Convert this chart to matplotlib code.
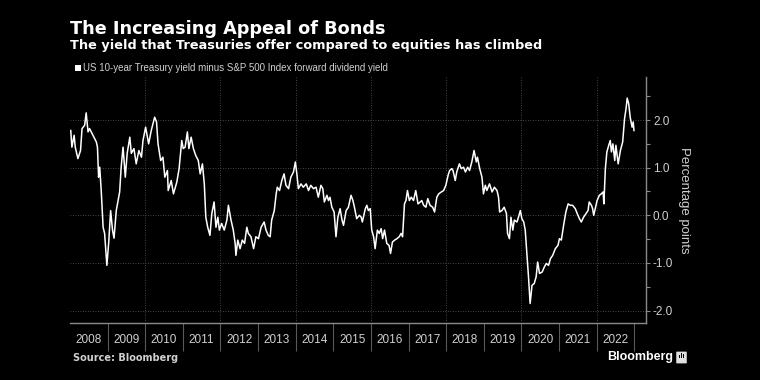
import matplotlib
matplotlib.use("Agg")
import matplotlib.pyplot as plt
from matplotlib.ticker import FixedLocator, NullFormatter, FixedFormatter
from matplotlib.patches import Rectangle, FancyBboxPatch

# spread = US 10y Treasury yield minus S&P 500 forward dividend yield (pct points)
# time as fractional years since 2008
years = [
    2008.02, 2008.05, 2008.11, 2008.14, 2008.21, 2008.28, 2008.32, 2008.39, 2008.43, 2008.48,
    2008.52, 2008.61, 2008.70, 2008.73, 2008.76, 2008.79, 2008.83, 2008.88, 2008.92, 2008.98,
    2009.03, 2009.08, 2009.13, 2009.17, 2009.23, 2009.32, 2009.36, 2009.41, 2009.47, 2009.52,
    2009.59, 2009.63, 2009.70, 2009.76, 2009.83, 2009.90, 2009.94, 2010.01, 2010.09, 2010.16,
    2010.25, 2010.30, 2010.34, 2010.41, 2010.47, 2010.52, 2010.59, 2010.61, 2010.69, 2010.75,
    2010.84, 2010.90, 2010.97, 2011.01, 2011.06, 2011.12, 2011.16, 2011.22, 2011.28, 2011.34,
    2011.41, 2011.46, 2011.52, 2011.57, 2011.61, 2011.66, 2011.72, 2011.77, 2011.83, 2011.88,
    2011.93, 2011.97, 2012.03, 2012.10, 2012.17, 2012.21, 2012.28, 2012.34, 2012.39, 2012.41,
    2012.46, 2012.52, 2012.58, 2012.64, 2012.70, 2012.74, 2012.81, 2012.88, 2012.94, 2013.01,
    2013.08, 2013.16, 2013.21, 2013.27, 2013.32, 2013.36, 2013.43, 2013.48, 2013.51, 2013.57,
    2013.63, 2013.69, 2013.74, 2013.81, 2013.87, 2013.94, 2013.99, 2014.03, 2014.07, 2014.14,
    2014.20, 2014.28, 2014.34, 2014.40, 2014.47, 2014.54, 2014.60, 2014.67, 2014.72, 2014.76,
    2014.83, 2014.87, 2014.91, 2014.96, 2015.02, 2015.07, 2015.12, 2015.18, 2015.23, 2015.27,
    2015.34, 2015.40, 2015.47, 2015.52, 2015.56, 2015.62, 2015.69, 2015.74, 2015.77, 2015.85,
    2015.89, 2015.93, 2015.98, 2016.02, 2016.07, 2016.11, 2016.17, 2016.22, 2016.27, 2016.31,
    2016.36, 2016.42, 2016.48, 2016.52, 2016.57, 2016.63, 2016.69, 2016.75, 2016.80, 2016.84,
    2016.89, 2016.93, 2016.97, 2017.02, 2017.07, 2017.13, 2017.19, 2017.25, 2017.31, 2017.35,
    2017.40, 2017.46, 2017.51, 2017.57, 2017.64, 2017.69, 2017.75, 2017.80, 2017.87, 2017.93,
    2017.99, 2018.05, 2018.09, 2018.15, 2018.18, 2018.24, 2018.28, 2018.35, 2018.40, 2018.46,
    2018.51, 2018.57, 2018.62, 2018.68, 2018.74, 2018.80, 2018.83, 2018.89, 2018.95, 2018.99,
    2019.04, 2019.08, 2019.15, 2019.22, 2019.28, 2019.35, 2019.39, 2019.42, 2019.48, 2019.54,
    2019.60, 2019.63, 2019.68, 2019.72, 2019.77, 2019.81, 2019.88, 2019.92, 2019.97, 2020.01,
    2020.06, 2020.10, 2020.15, 2020.19, 2020.23, 2020.28, 2020.34, 2020.39, 2020.43, 2020.48,
    2020.55, 2020.61, 2020.66, 2020.72, 2020.77, 2020.83, 2020.90, 2020.97, 2021.01, 2021.06,
    2021.12, 2021.18, 2021.24, 2021.30, 2021.36, 2021.43, 2021.48, 2021.54, 2021.59, 2021.65,
    2021.72, 2021.77, 2021.80, 2021.86, 2021.89, 2021.92, 2021.96, 2022.01, 2022.07, 2022.12,
    2022.17, 2022.19, 2022.23, 2022.27, 2022.32, 2022.36, 2022.39, 2022.43, 2022.48, 2022.51,
    2022.57, 2022.63, 2022.69, 2022.74, 2022.78, 2022.81, 2022.85, 2022.89, 2022.94, 2022.97,
    2022.99,
]
spread = [
    1.78, 1.43, 1.68, 1.43, 1.19, 1.36, 1.82, 1.89, 2.15, 1.75,
    1.82, 1.68, 1.54, 1.43, 0.80, 1.01, 0.52, -0.25, -0.38, -1.05,
    -0.56, 0.10, -0.31, -0.48, 0.10, 0.49, 1.01, 1.43, 0.80, 1.30,
    1.64, 1.30, 1.40, 1.08, 1.36, 1.22, 1.57, 1.85, 1.50, 1.78,
    2.06, 1.96, 1.50, 1.15, 1.22, 0.80, 0.94, 0.52, 0.73, 0.45,
    0.70, 0.98, 1.57, 1.40, 1.43, 1.75, 1.40, 1.64, 1.40, 1.26,
    1.15, 0.87, 1.08, 0.66, -0.04, -0.25, -0.42, 0.04, 0.28, -0.25,
    -0.04, -0.31, -0.17, -0.31, -0.10, 0.21, -0.10, -0.31, -0.59, -0.84,
    -0.52, -0.70, -0.52, -0.59, -0.25, -0.38, -0.45, -0.70, -0.45, -0.49,
    -0.25, -0.14, -0.31, -0.42, -0.45, -0.10, 0.10, 0.45, 0.59, 0.52,
    0.73, 0.87, 0.63, 0.56, 0.80, 0.91, 1.12, 0.87, 0.56, 0.66,
    0.59, 0.66, 0.52, 0.63, 0.56, 0.59, 0.38, 0.63, 0.56, 0.28,
    0.42, 0.31, 0.38, 0.17, 0.07, -0.45, -0.04, 0.14, -0.10, -0.21,
    0.10, 0.17, 0.42, 0.31, 0.17, -0.07, 0.00, -0.04, -0.14, 0.14,
    0.21, 0.10, 0.14, -0.31, -0.45, -0.70, -0.31, -0.38, -0.28, -0.49,
    -0.31, -0.59, -0.63, -0.80, -0.56, -0.52, -0.49, -0.45, -0.38, -0.45,
    0.24, 0.31, 0.52, 0.31, 0.38, 0.31, 0.52, 0.24, 0.28, 0.31,
    0.21, 0.17, 0.35, 0.21, 0.17, 0.07, 0.38, 0.45, 0.49, 0.52,
    0.63, 0.84, 0.94, 0.98, 0.94, 0.73, 0.91, 1.08, 0.98, 1.01,
    0.91, 1.01, 0.94, 1.12, 1.36, 1.12, 1.22, 0.98, 0.80, 0.45,
    0.63, 0.52, 0.66, 0.49, 0.59, 0.52, 0.38, 0.07, 0.10, 0.17,
    0.04, -0.38, -0.49, -0.04, -0.31, -0.10, -0.14, -0.04, 0.10, -0.07,
    -0.14, -0.31, -0.87, -1.33, -1.85, -1.47, -1.43, -1.29, -0.98, -1.22,
    -1.19, -1.08, -1.01, -1.05, -0.91, -0.84, -0.70, -0.63, -0.49, -0.52,
    -0.21, 0.07, 0.24, 0.21, 0.21, 0.14, 0.04, -0.07, -0.14, -0.04,
    0.04, 0.10, 0.28, 0.21, 0.14, 0.00, 0.14, 0.31, 0.42, 0.45,
    0.49, 0.24, 0.98, 1.33, 1.47, 1.57, 1.33, 1.50, 1.15, 1.47,
    1.08, 1.36, 1.54, 2.03, 2.24, 2.46, 2.34, 2.06, 1.85, 1.96,
    1.78,
]

year_labels = [str(y) for y in range(2008, 2023)]
y_ticks = [-2, -1, 0, 1, 2]
y_tick_labels = ["-2.0", "-1.0", "0.0", "1.0", "2.0"]
grid_years = [2010, 2012, 2014, 2016, 2018, 2020, 2022]

title = "The Increasing Appeal of Bonds"
subtitle = "The yield that Treasuries offer compared to equities has climbed"
legend_label = "US 10-year Treasury yield minus S&P 500 Index forward dividend yield"

bg = "black"
axis_grey = "#8a8a8a"
text_grey = "#d0d0d0"
small_font = ["Liberation Sans", "DejaVu Sans"]

fig = plt.figure(figsize=(7.6, 3.8), dpi=100, facecolor=bg)
ax = fig.add_axes([0.0921, 0.15, 0.7579, 0.647], facecolor=bg)

ax.plot(years, spread, color="white", lw=1.1, solid_joinstyle="round")

ax.set_xlim(2008.0, 2023.31)
ax.set_ylim(-2.26, 2.9)

# spines: only bottom + right
for side in ["top", "left"]:
    ax.spines[side].set_visible(False)
for side in ["bottom", "right"]:
    ax.spines[side].set_color(axis_grey)
    ax.spines[side].set_linewidth(1.0)

# x axis: long separators at year starts, labels centred on each year
ax.xaxis.set_major_locator(FixedLocator(range(2009, 2024)))
ax.xaxis.set_major_formatter(NullFormatter())
ax.xaxis.set_minor_locator(FixedLocator([y + 0.5 for y in range(2008, 2023)]))
ax.xaxis.set_minor_formatter(FixedFormatter(year_labels))
ax.tick_params(axis="x", which="major", length=20, width=0.8, color="#5a5a5a", direction="out")
ax.tick_params(axis="x", which="minor", length=0, pad=8, labelsize=8.5, labelcolor=text_grey)
for lab in ax.get_xticklabels(minor=True):
    lab.set_family(small_font)

# y axis on right
ax.yaxis.tick_right()
ax.yaxis.set_label_position("right")
ax.set_yticks(y_ticks)
ax.set_yticklabels(y_tick_labels)
ax.yaxis.set_minor_locator(FixedLocator([-1.5, -0.5, 0.5, 1.5, 2.5]))
ax.tick_params(axis="y", which="both", length=3, width=0.8, color=axis_grey,
               labelsize=8.5, labelcolor=text_grey, pad=2)
for lab in ax.get_yticklabels():
    lab.set_family(small_font)
ax.set_ylabel("Percentage points", rotation=270, labelpad=12, color=text_grey,
              fontsize=9.5, family=small_font)

# dotted grid
for yv in y_ticks:
    ax.axhline(yv, color="#5c5c5c", lw=0.6, ls=(0, (1, 2)), zorder=0)
for xv in grid_years:
    ax.axvline(xv, color="#5c5c5c", lw=0.6, ls=(0, (1, 2)), zorder=0)

# header text
fig.text(0.0921, 0.925, title, color="white", fontsize=12.7, fontweight="bold",
         va="center", ha="left")
fig.text(0.0921, 0.88, subtitle, color="white", fontsize=9.3, fontweight="bold",
         va="center", ha="left")
fig.patches.append(Rectangle((75 / 760, 1 - 71 / 380), 6 / 760, 6 / 380,
                             transform=fig.transFigure, facecolor="white", edgecolor="none"))
fig.text(83 / 760, 1 - 68 / 380, legend_label, color=text_grey, fontsize=7.0,
         va="center", ha="left", family=small_font)

# footer
fig.text(73 / 760, 1 - 358 / 380, "Source: Bloomberg", color=text_grey, fontsize=7,
         fontweight="bold", va="center", ha="left")
fig.text(673 / 760, 1 - 357 / 380, "Bloomberg", color="white", fontsize=9,
         fontweight="bold", va="center", ha="right", family=small_font)
fig.patches.append(FancyBboxPatch((677 / 760, 1 - 363 / 380), 9 / 760, 11 / 380,
                                  boxstyle="round,pad=0.001", transform=fig.transFigure,
                                  facecolor="#e0e0e0", edgecolor="none"))
# tiny bar glyph inside the logo box
for i, h in enumerate([3, 5, 4]):
    fig.patches.append(Rectangle(((679 + 2 * i) / 760, 1 - 358 / 380), 1 / 760, h / 380,
                                 transform=fig.transFigure, facecolor="black",
                                 edgecolor="none"))

fig.savefig("out.png", dpi=100, facecolor=bg)
